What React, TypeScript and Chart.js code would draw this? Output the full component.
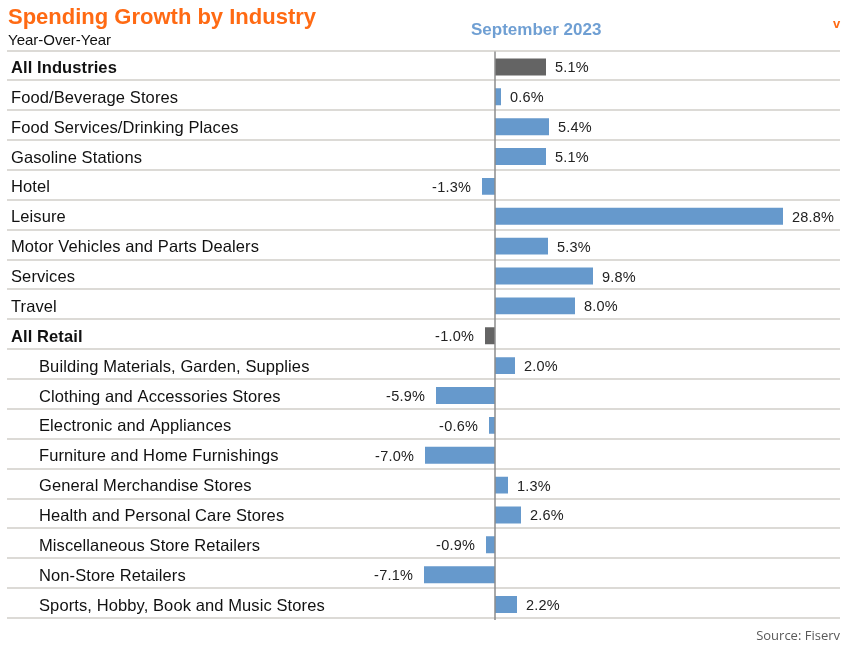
import React, { useEffect, useRef } from "react";
import { Chart, registerables } from "chart.js";

Chart.register(...registerables);

const categories = [
  "All Industries",
  "Food/Beverage Stores",
  "Food Services/Drinking Places",
  "Gasoline Stations",
  "Hotel",
  "Leisure",
  "Motor Vehicles and Parts Dealers",
  "Services",
  "Travel",
  "All Retail",
  "Building Materials, Garden, Supplies",
  "Clothing and Accessories Stores",
  "Electronic and Appliances",
  "Furniture and Home Furnishings",
  "General Merchandise Stores",
  "Health and Personal Care Stores",
  "Miscellaneous Store Retailers",
  "Non-Store Retailers",
  "Sports, Hobby, Book and Music Stores",
];

const values = [5.1, 0.6, 5.4, 5.1, -1.3, 28.8, 5.3, 9.8, 8.0, -1.0, 2.0, -5.9, -0.6, -7.0, 1.3, 2.6, -0.9, -7.1, 2.2];

const totalRows = ["All Industries", "All Retail"];
const indentedRows = categories.slice(10);

const BLUE = "#6699cc";
const GRAY = "#646464";
const LINE_SHIFT = -1.5;

const tablePlugin = {
  id: "tablePlugin",
  beforeDatasetsDraw(chart: any) {
    const { ctx } = chart;
    const y = chart.scales.y;
    const n = categories.length;
    const step = y.getPixelForValue(1) - y.getPixelForValue(0);
    ctx.save();
    ctx.strokeStyle = "#dcdad6";
    ctx.lineWidth = 2;
    for (let i = 0; i <= n; i++) {
      const py = Math.round(y.getPixelForValue(0) - step / 2 + i * step + LINE_SHIFT);
      ctx.beginPath();
      ctx.moveTo(7, py);
      ctx.lineTo(840, py);
      ctx.stroke();
    }
    ctx.restore();
  },
  afterDatasetsDraw(chart: any) {
    const { ctx } = chart;
    const y = chart.scales.y;
    const x = chart.scales.x;
    const zx = x.getPixelForValue(0);
    const step = y.getPixelForValue(1) - y.getPixelForValue(0);
    const top = y.getPixelForValue(0) - step / 2 + LINE_SHIFT;
    const bottom = y.getPixelForValue(categories.length - 1) + step / 2 + LINE_SHIFT;
    ctx.save();
    ctx.strokeStyle = "#8c8c8c";
    ctx.lineWidth = 1.5;
    ctx.beginPath();
    ctx.moveTo(zx, top + 1);
    ctx.lineTo(zx, bottom + 2);
    ctx.stroke();

    ctx.textBaseline = "middle";
    categories.forEach((c, i) => {
      const py = y.getPixelForValue(i);
      const bold = totalRows.includes(c);
      ctx.font = (bold ? "bold " : "") + "16.5px 'Liberation Sans', Arial, sans-serif";
      (ctx as any).letterSpacing = "0.1px";
      ctx.fillStyle = "#111111";
      ctx.textAlign = "left";
      ctx.fillText(c, indentedRows.includes(c) ? 39 : 11, py + 1.5);

      const v = values[i];
      ctx.font = "14.5px 'Liberation Sans', Arial, sans-serif";
      (ctx as any).letterSpacing = "0.2px";
      ctx.fillStyle = "#222222";
      const vx = x.getPixelForValue(v);
      const txt = v.toFixed(1) + "%";
      if (v >= 0) {
        ctx.textAlign = "left";
        ctx.fillText(txt, vx + 9, py + 1.5);
      } else {
        ctx.textAlign = "right";
        ctx.fillText(txt, vx - 11, py + 1.5);
      }
    });
    ctx.restore();
  },
};

export default function App() {
  const ref = useRef<HTMLCanvasElement>(null);
  useEffect(() => {
    if (!ref.current) return;
    const chart = new Chart(ref.current, {
      type: "bar",
      data: {
        labels: categories,
        datasets: [
          {
            data: values,
            backgroundColor: categories.map((c) => (totalRows.includes(c) ? GRAY : BLUE)),
            barPercentage: 17 / 30,
            categoryPercentage: 1,
          },
        ],
      },
      options: {
        indexAxis: "y",
        responsive: false,
        animation: false,
        devicePixelRatio: 1,
        layout: { padding: { top: 52, bottom: 36.5, left: 7, right: 11 } },
        plugins: { legend: { display: false }, tooltip: { enabled: false }, title: { display: false } },
        scales: {
          x: { display: false, min: -48.8, max: 34.5 },
          y: { display: false },
        },
      },
      plugins: [tablePlugin],
    });
    return () => chart.destroy();
  }, []);

  const font = "'Liberation Sans', Arial, sans-serif";
  return (
    <div style={{ position: "fixed", left: 0, top: 0, width: 851, height: 656, background: "#fff", overflow: "hidden" }}>
      <canvas ref={ref} width={851} height={656} style={{ position: "absolute", left: 0, top: 0 }} />
      <div style={{ position: "absolute", left: 8, top: 4, fontFamily: font, fontWeight: "bold", fontSize: 22, color: "#ff6a13", lineHeight: "25px" }}>
        Spending Growth by Industry
      </div>
      <div style={{ position: "absolute", left: 8, top: 31, fontFamily: font, fontSize: 15, color: "#111", lineHeight: "17px" }}>Year-Over-Year</div>
      <div style={{ position: "absolute", left: 471, top: 20, fontFamily: font, fontWeight: "bold", fontSize: 17, color: "#6f9fd3", lineHeight: "19px" }}>
        September 2023
      </div>
      <div style={{ position: "absolute", left: 833, top: 16, fontFamily: font, fontWeight: "bold", fontSize: 13, color: "#ff6a13" }}>v</div>
      <div style={{ position: "absolute", right: 11, top: 626, fontFamily: "'Open Sans', sans-serif", fontSize: 13, color: "#595959" }}>
        Source: Fiserv
      </div>
    </div>
  );
}
